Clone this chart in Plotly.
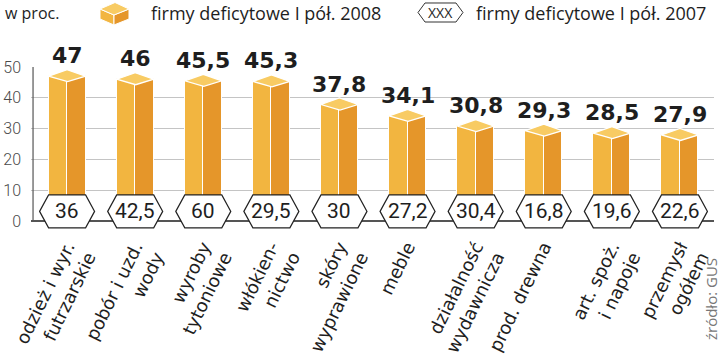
import plotly.graph_objects as go

# ---- data ----
categories = ["odzież i wyr.<br>futrzarskie", "pobór i uzd.<br>wody", "wyroby<br>tytoniowe",
              "włókien-<br>nictwo", "skóry<br>wyprawione", "meble",
              "działalność<br>wydawnicza", "prod. drewna", "art. spoż.<br>i napoje",
              "przemysł<br>ogółem"]
values_2008 = [47, 46, 45.5, 45.3, 37.8, 34.1, 30.8, 29.3, 28.5, 27.9]
values_2007 = [36, 42.5, 60, 29.5, 30, 27.2, 30.4, 16.8, 19.6, 22.6]
y_ticks = [0, 10, 20, 30, 40, 50]

legend_2008 = "firmy deficytowe I pół. 2008"
legend_2007 = "firmy deficytowe I pół. 2007"
unit_label = "w proc."
source_label = "źródło: GUS"

def fmt(v):
    return f"{v:g}".replace(".", ",")

W, H = 720, 355
ML, MR, MT, MB = 31, 6, 66, 123
PW, PH = W - ML - MR, H - MT - MB

C_LEFT = "#F2B540"
C_RIGHT = "#E5962A"
C_TOP = "#F8CB63"
GRID = "#c4c4c4"
LABEL_FONT = "Open Sans, Roboto, sans-serif"

x = list(range(len(categories)))
half_w = 0.272

# tick text padded with empty lines so the first text line sits at the tick anchor
def pad_label(c):
    return "<br>" + c if "<br>" in c else "<br>" + c + "<br>"
tick_text = [pad_label(c) for c in categories]

fig = go.Figure()
fig.add_trace(go.Bar(x=x, y=values_2008, width=half_w, offset=-half_w,
                     marker=dict(color=C_LEFT, line=dict(color="white", width=1)),
                     hoverinfo="skip", showlegend=False))
fig.add_trace(go.Bar(x=x, y=values_2008, width=half_w, offset=0,
                     marker=dict(color=C_RIGHT, line=dict(color="white", width=1)),
                     hoverinfo="skip", showlegend=False))

shapes = []
annotations = []
# top faces of 3D bars
for xi, v in zip(x, values_2008):
    shapes.append(dict(type="path", xref="x", yref="y", xsizemode="pixel", ysizemode="pixel",
                       xanchor=xi, yanchor=v,
                       path="M -18.5 0 L 0 6.5 L 18.5 0 L 0.5 -5.5 Z",
                       fillcolor=C_TOP, line=dict(color="white", width=1.3), layer="above"))
    annotations.append(dict(x=xi, y=v, xref="x", yref="y", text=fmt(v), showarrow=False,
                            yanchor="bottom", yshift=6,
                            font=dict(family="DejaVu Sans", size=22, color="#1e1e1e", weight="bold")))
# hexagons with 2007 values
for xi, v in zip(x, values_2007):
    shapes.append(dict(type="path", xref="x", yref="y", xsizemode="pixel", ysizemode="pixel",
                       xanchor=xi, yanchor=0,
                       path="M -27.5 9.5 L -18.5 26 L 18.5 26 L 27.5 9.5 L 18.5 -7 L -18.5 -7 Z",
                       fillcolor="white", line=dict(color="#222", width=1.2), layer="above"))
    annotations.append(dict(x=xi, y=0, xref="x", yref="y", text=fmt(v), showarrow=False,
                            yshift=9.5,
                            font=dict(family="Roboto", size=21, color="#1e1e1e")))

# left axis line
shapes.append(dict(type="line", xref="x", yref="y", x0=-0.5, x1=-0.5, y0=0, y1=50,
                   line=dict(color="#555", width=1.2), layer="above"))

def px2paper_x(px):
    return (px - ML) / PW

def px2paper_y(py):
    return (MT + PH - py) / PH

def paper_path(points):
    s = "M " + " L ".join(f"{px2paper_x(a):.5f} {px2paper_y(b):.5f}" for a, b in points) + " Z"
    return s

# legend cube icon
cube_top = [(100, 9), (115, 2.5), (129, 9), (114, 15)]
cube_left = [(100, 9), (114, 15), (114, 25), (100, 19)]
cube_right = [(114, 15), (129, 9), (129, 19), (114, 25)]
for pts, col in [(cube_left, C_LEFT), (cube_right, C_RIGHT), (cube_top, C_TOP)]:
    shapes.append(dict(type="path", xref="paper", yref="paper", path=paper_path(pts),
                       fillcolor=col, line=dict(color="white", width=1)))
# legend hexagon icon
hexa = [(418, 12.5), (425, 3), (456, 3), (463, 12.5), (456, 22), (425, 22)]
shapes.append(dict(type="path", xref="paper", yref="paper", path=paper_path(hexa),
                   fillcolor="white", line=dict(color="#333", width=1)))

annotations += [
    dict(x=px2paper_x(3), y=px2paper_y(13), xref="paper", yref="paper", text=unit_label,
         showarrow=False, xanchor="left", yanchor="middle",
         font=dict(family=LABEL_FONT, size=16, color="#1e1e1e")),
    dict(x=px2paper_x(149), y=px2paper_y(13), xref="paper", yref="paper", text=legend_2008,
         showarrow=False, xanchor="left", yanchor="middle",
         font=dict(family=LABEL_FONT, size=18, color="#1e1e1e")),
    dict(x=px2paper_x(440.5), y=px2paper_y(12.5), xref="paper", yref="paper", text="XXX",
         showarrow=False, xanchor="center", yanchor="middle",
         font=dict(family=LABEL_FONT, size=14, color="#1e1e1e")),
    dict(x=px2paper_x(474), y=px2paper_y(13), xref="paper", yref="paper", text=legend_2007,
         showarrow=False, xanchor="left", yanchor="middle",
         font=dict(family=LABEL_FONT, size=18, color="#1e1e1e")),
    dict(x=px2paper_x(711), y=px2paper_y(299), xref="paper", yref="paper", text=source_label,
         showarrow=False, textangle=-90, xanchor="center", yanchor="middle",
         font=dict(family=LABEL_FONT, size=15, color="#777")),
]

fig.update_layout(
    width=W, height=H,
    margin=dict(l=ML, r=MR, t=MT, b=MB, pad=0, autoexpand=False),
    paper_bgcolor="white", plot_bgcolor="white",
    barmode="overlay", bargap=0,
    shapes=shapes, annotations=annotations,
    xaxis=dict(range=[-0.53, 9.5], tickvals=x, ticktext=tick_text, tickangle=-64,
               showgrid=False, zeroline=False, showline=False, ticks="",
               automargin=False, ticklabeloverflow="allow",
               tickfont=dict(family="DejaVu Sans", size=18, color="#1e1e1e")),
    yaxis=dict(range=[-3.6, 50.3], tickvals=y_ticks, showgrid=True, gridcolor=GRID, gridwidth=1.2,
               zeroline=True, zerolinecolor="#555", zerolinewidth=1.5, showline=False, ticks="",
               ticklabelstandoff=9, automargin=False,
               tickfont=dict(family="Roboto", size=16, color="#4a4a4a", weight=300)),
    showlegend=False,
)

fig.write_html("out.html", post_script="document.body.style.margin='0';",
               config={"displayModeBar": False})
